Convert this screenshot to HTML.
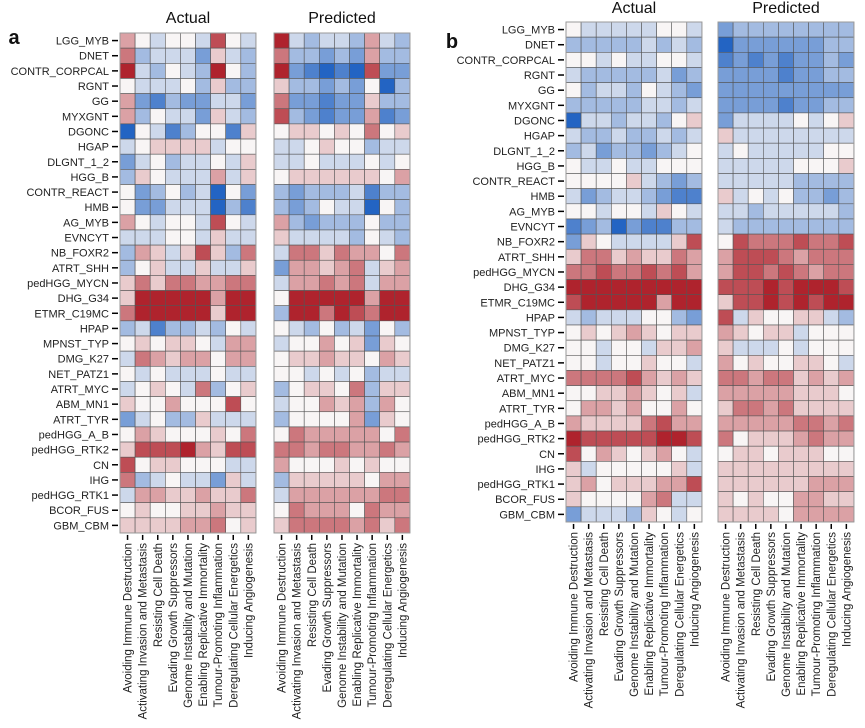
<!DOCTYPE html>
<html><head><meta charset="utf-8"><style>
body{margin:0;background:#fff}
svg{display:block;font-family:"Liberation Sans","DejaVu Sans",sans-serif}
</style></head><body>
<svg id="s" width="865" height="728" xmlns="http://www.w3.org/2000/svg"></svg>
<script>
const rows=["LGG_MYB","DNET","CONTR_CORPCAL","RGNT","GG","MYXGNT","DGONC","HGAP","DLGNT_1_2","HGG_B","CONTR_REACT","HMB","AG_MYB","EVNCYT","NB_FOXR2","ATRT_SHH","pedHGG_MYCN","DHG_G34","ETMR_C19MC","HPAP","MPNST_TYP","DMG_K27","NET_PATZ1","ATRT_MYC","ABM_MN1","ATRT_TYR","pedHGG_A_B","pedHGG_RTK2","CN","IHG","pedHGG_RTK1","BCOR_FUS","GBM_CBM"];
const rowsB=["LGG_MYB","DNET","CONTR_CORPCAL","RGNT","GG","MYXGNT","DGONC","HGAP","DLGNT_1_2","HGG_B","CONTR_REACT","HMB","AG_MYB","EVNCYT","NB_FOXR2","ATRT_SHH","pedHGG_MYCN","DHG_G34","ETMR_C19MC","HPAP","MPNST_TYP","DMG_K27","NET_PATZ1","ATRT_MYC","ABM_MN1","ATRT_TYR","pedHGG_A_B","pedHGG_RTK2","CN","IHG","pedHGG_RTK1","BCOR_FUS","GBM_CBM"];
const cols=["Avoiding Immune Destruction","Activating Invasion and Metastasis","Resisting Cell Death","Evading Growth Suppressors","Genome Instability and Mutation","Enabling Replicative Immortality","Tumour-Promoting Inflammation","Deregulating Cellular Energetics","Inducing Angiogenesis"];
const aActual=[[2,0,-1,0,0,-1,4,0,-1],[3,-2,-1,-1,-1,-3,1,-1,-2],[5,-1,-2,0,-1,-2,5,0,-2],[0,-1,-1,-1,0,-2,1,-2,-2],[2,-3,-4,-2,-3,-3,-1,-1,-3],[2,-2,0,-1,-1,-3,1,-1,-2],[-5,0,-1,-4,-2,0,0,-4,1],[-1,0,1,1,1,1,-1,0,0],[-3,-1,0,-2,-1,-1,0,-1,1],[-2,1,0,-1,-1,-1,2,-1,1],[0,-3,-2,0,-2,-1,-5,0,-3],[0,-3,-3,-1,-1,-1,-5,-2,-4],[2,0,-1,0,0,-1,4,0,-1],[-1,-1,-1,0,0,-1,1,-1,-1],[-2,2,1,-1,1,4,1,-2,3],[-2,0,1,-1,-1,1,-1,-1,1],[1,3,1,3,3,2,2,3,3],[1,5,5,5,5,5,2,5,5],[3,5,5,5,5,5,1,5,5],[-2,-1,-4,-2,-2,-1,-2,0,-1],[0,1,0,1,1,0,-1,2,2],[-1,3,2,1,2,2,0,2,2],[0,-1,0,-1,-1,-1,0,-1,-1],[-1,0,1,0,-1,3,-2,0,1],[1,0,0,2,0,0,0,4,0],[-3,-1,0,-2,-2,1,-1,-1,-1],[0,2,1,0,0,0,1,0,3],[1,4,4,4,5,2,1,4,4],[4,0,1,1,0,0,0,-1,-1],[3,-2,-1,0,-1,-1,-3,1,-1],[-1,2,2,1,1,2,1,1,3],[0,1,0,0,1,1,2,1,1],[1,1,1,1,2,2,3,0,1]];
const aPred=[[5,-1,-2,-1,-1,-2,2,-1,-2],[3,-2,-2,-3,-2,-3,2,-2,-2],[5,-3,-4,-5,-4,-5,4,-3,-3],[1,-2,-2,-3,-2,-3,0,-5,-2],[3,-3,-3,-4,-3,-3,1,-2,-2],[4,-2,-3,-4,-3,-3,2,-4,-3],[0,1,1,0,1,0,3,0,1],[-1,-1,0,1,0,0,-2,-1,-1],[-1,-1,0,-1,-1,-1,0,-1,0],[0,1,1,1,1,1,1,0,2],[-2,-3,-2,-2,-2,-1,-4,-2,-2],[-2,-3,-2,0,-1,-1,-5,0,-2],[2,-2,-3,-2,-2,-2,0,-2,-2],[1,-1,-1,-1,-1,-2,0,-1,-2],[-1,3,3,1,3,2,2,0,3],[-3,2,2,1,2,3,-1,1,2],[-1,2,2,3,2,3,-1,2,2],[0,5,5,5,5,5,2,5,5],[-2,5,5,3,5,4,3,5,5],[0,-1,-2,0,-2,-1,-3,0,-2],[-1,0,0,2,0,1,-3,1,0],[0,1,1,2,1,1,0,2,1],[0,0,-1,0,-1,0,-2,-1,-1],[-2,0,1,1,0,3,-2,1,1],[-1,0,0,2,1,2,-2,2,0],[-2,0,0,0,0,2,-3,1,0],[0,3,2,2,2,2,2,0,3],[3,3,2,3,3,2,2,3,2],[2,0,0,0,1,0,1,0,0],[-2,1,1,1,1,1,0,2,2],[-1,2,2,2,2,2,2,3,3],[0,3,2,2,2,0,3,2,2],[1,3,3,3,3,2,3,1,3]];
const bActual=[[0,-1,-1,-1,-1,-1,0,0,-1],[-2,-2,-2,-2,-2,-1,-2,-1,-2],[0,0,-1,0,-1,-1,0,0,-1],[-1,-2,-2,-2,-2,-2,-1,-3,-2],[0,-2,-1,-1,-2,0,-1,-2,-3],[-2,-2,-2,-2,-2,-1,-1,-2,-1],[-5,-1,-1,-2,-1,-1,-2,0,1],[-1,-2,-2,-1,-2,-2,-1,-2,-1],[-2,-1,-3,-2,-2,-3,-2,-1,0],[0,-1,-1,0,-1,-1,0,0,0],[0,0,0,0,1,-1,-2,-3,-2],[-1,-3,-2,-1,-1,-2,-3,-4,-4],[0,0,-1,0,0,-1,1,0,-1],[-4,-3,-2,-5,-3,-4,-4,-2,-2],[-3,1,0,-1,-1,-1,-1,1,4],[1,3,3,1,2,1,1,3,2],[3,3,4,3,3,4,3,4,2],[5,5,5,5,5,5,5,5,5],[4,5,5,5,5,5,2,5,5],[-1,-2,-1,-1,-1,0,0,-2,-3],[0,1,0,1,2,1,0,1,1],[0,0,-1,0,0,-1,1,1,2],[0,0,-1,0,0,1,0,0,-1],[3,3,3,3,4,2,1,2,1],[0,0,1,1,2,1,0,1,-1],[0,2,2,1,2,0,0,2,0],[2,1,1,1,1,3,4,2,2],[5,4,4,4,4,4,5,5,4],[4,0,2,1,0,1,2,0,-1],[1,-1,0,0,0,0,0,1,-1],[1,2,0,1,1,1,2,2,4],[1,0,0,0,0,2,3,-1,-1],[-3,-1,-1,-1,-2,1,0,-1,0]];
const bPred=[[-3,-2,-2,-2,-2,-2,-2,-2,-2],[-5,-3,-3,-3,-3,-3,-3,-2,-2],[-4,-3,-4,-3,-4,-3,-3,-2,-3],[-3,-3,-3,-3,-4,-3,-3,-2,-2],[-3,-3,-3,-3,-3,-3,-3,-3,-3],[-3,-3,-3,-3,-4,-3,-3,-2,-2],[-3,-1,-1,-1,-1,0,-1,0,1],[1,-1,-1,-1,-1,-1,-1,-1,-1],[-1,0,-1,-1,-1,-1,-1,0,0],[-1,-1,-1,-1,-1,0,0,0,1],[-1,-1,-1,-1,-1,-2,-2,-2,-2],[1,-1,0,-1,0,-2,-2,-3,-2],[-1,-1,-2,-1,-1,-1,-1,-1,-2],[-1,-2,-2,-2,-2,-2,-2,-2,-2],[0,4,3,3,3,4,3,3,4],[2,4,4,4,3,2,3,3,3],[2,4,4,3,4,3,2,3,3],[4,4,4,5,4,5,5,5,4],[1,4,4,5,4,5,4,5,5],[4,-1,1,0,0,1,1,-1,-2],[2,1,0,1,1,-1,0,0,0],[1,-1,-1,-1,0,-1,0,0,0],[2,0,1,0,0,1,1,0,-1],[3,3,2,3,3,1,2,1,2],[2,2,2,2,2,1,1,1,0],[1,3,3,2,3,1,1,1,1],[2,2,2,2,2,3,3,2,3],[3,0,1,1,1,2,3,2,2],[0,1,1,0,1,1,1,0,0],[1,1,1,1,1,1,1,1,1],[1,1,1,1,1,1,2,2,2],[1,0,1,0,0,2,2,1,1],[1,1,1,1,0,2,2,2,2]];

const NS="http://www.w3.org/2000/svg";
const svg=document.getElementById('s');
function el(t,a,p){const e=document.createElementNS(NS,t);for(const k in a)e.setAttribute(k,a[k]);(p||svg).appendChild(e);return e;}
function color(v){const t=Math.max(-1,Math.min(1,v/5));const w=[248,245,245];const b=[35,100,195];const r=[175,35,45];const c=t<0?b:r;const f=Math.abs(t);return `rgb(${w.map((x,i)=>Math.round(x+(c[i]-x)*f)).join(',')})`;}
function panel(data,x0,y0,name,showRows,rowLabels){
  const cw=15.1,ch=15.15;
  const xs=j=>x0+j*cw, ys=i=>y0+i*ch;
  const g=el('g',{});
  
  
  data.forEach((row,i)=>row.forEach((v,j)=>{
    const r=el('rect',{x:xs(j),y:ys(i),width:cw,height:ch,fill:color(v),stroke:'#555',"stroke-width":0.6},g);
    
    
  }));
  el('rect',{x:x0,y:y0,width:cw*9,height:ch*data.length,fill:'none',stroke:'#999',"stroke-width":1},g);
  if(showRows){rowLabels.forEach((l,i)=>{
    el('line',{x1:x0-8,x2:x0-2,y1:ys(i)+ch/2,y2:ys(i)+ch/2,stroke:'#000',"stroke-width":1.5},g);
    const t=el('text',{x:x0-11,y:ys(i)+ch/2+4,"text-anchor":"end","font-size":11,fill:'#222'},g);
    t.textContent=l;
    
    
  });}
  const yb=y0+ch*data.length;
  cols.forEach((c,j)=>{
    const cx=xs(j)+cw/2;
    el('line',{x1:cx,x2:cx,y1:yb+2,y2:yb+7,stroke:'#000',"stroke-width":1.5},g);
    const t=el('text',{transform:`translate(${cx+4},${yb+10}) rotate(-90)`,"text-anchor":"end","font-size":11.5,fill:'#222'},g);
    t.textContent=c;
    
    
  });
}
panel(aActual,120,33,'panel-a-actual',true,rows);
panel(aPred,274,33,'panel-a-predicted',false,rows);
panel(bActual,566,22,'panel-b-actual',true,rowsB);
panel(bPred,718,22,'panel-b-predicted',false,rowsB);
function txt(x,y,s,size,name,weight){const t=el('text',{x:x,y:y,"font-size":size,"text-anchor":"middle","font-weight":weight||"normal",fill:'#111'});t.textContent=s;}
txt(188,23,'Actual',16,'title-a-actual');
txt(342,23,'Predicted',16,'title-a-predicted');
txt(634,13,'Actual',16,'title-b-actual');
txt(786,13,'Predicted',16,'title-b-predicted');
txt(14,44,'a',20,'panel-label-a','bold');
txt(452,48,'b',20,'panel-label-b','bold');
</script>
</body></html>
